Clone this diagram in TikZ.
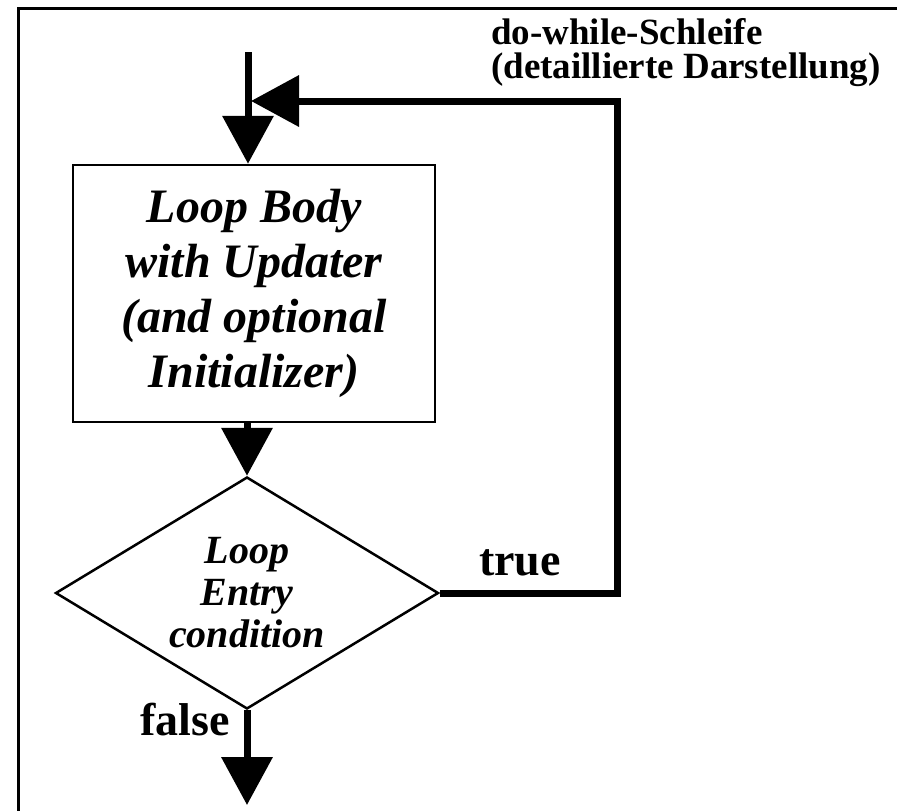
\documentclass[tikz,border=0pt]{standalone}
\usepackage{fontspec}
\setmainfont{Liberation Serif}
\usetikzlibrary{shapes.geometric,arrows.meta}
\begin{document}
\begin{tikzpicture}[x=1pt,y=-1pt,
  frameline/.style={line width=3pt},
  flow/.style={line width=7pt},
  bigtip/.style={-{Triangle[length=48pt,width=50pt]}},
  bodybox/.style={draw, line width=2.5pt, minimum width=362pt, minimum height=257pt,
    inner sep=0pt, align=center, font=\fontsize{48}{55}\selectfont\bfseries\itshape},
  cond/.style={diamond, draw, line width=2.5pt, aspect=1.65, minimum width=383pt,
    minimum height=232pt, inner sep=0pt, align=center,
    font=\fontsize{40}{42}\selectfont\bfseries\itshape},
  lbl/.style={inner sep=0pt, font=\fontsize{46}{50}\selectfont\bfseries},
  titletext/.style={inner sep=0pt, align=left, font=\fontsize{37}{34}\selectfont\bfseries},
]
\useasboundingbox (0,0) rectangle (898,812);
\draw[frameline] (897,8.5) -- (18.5,8.5) -- (18.5,811);

\node[titletext, anchor=north west] (title) at (491,18) {do-while-Schleife\\(detaillierte Darstellung)};

\node[bodybox] (body) at (254,293.5) {Loop Body\\with Updater\\(and optional\\Initializer)};
\node[cond] (test) at (247,593) {Loop\\Entry\\condition};

\coordinate (start) at (248,52);
\coordinate (exit) at (247,805);
\coordinate (rt) at (617,101);
\coordinate (lt) at (251,101);

\draw[flow,bigtip] (start) -- (start |- body.north);
\draw[flow,bigtip] (body.south -| test.north) -- (test.north);
\draw[flow,bigtip] (test.south) -- (exit);
\draw[flow,bigtip] (test.east) -| (rt) -- (lt);

\node[lbl, anchor=base west] (truelbl) at (479,575) {true};
\node[lbl, anchor=base west] (falselbl) at (140,735) {false};
\end{tikzpicture}
\end{document}
